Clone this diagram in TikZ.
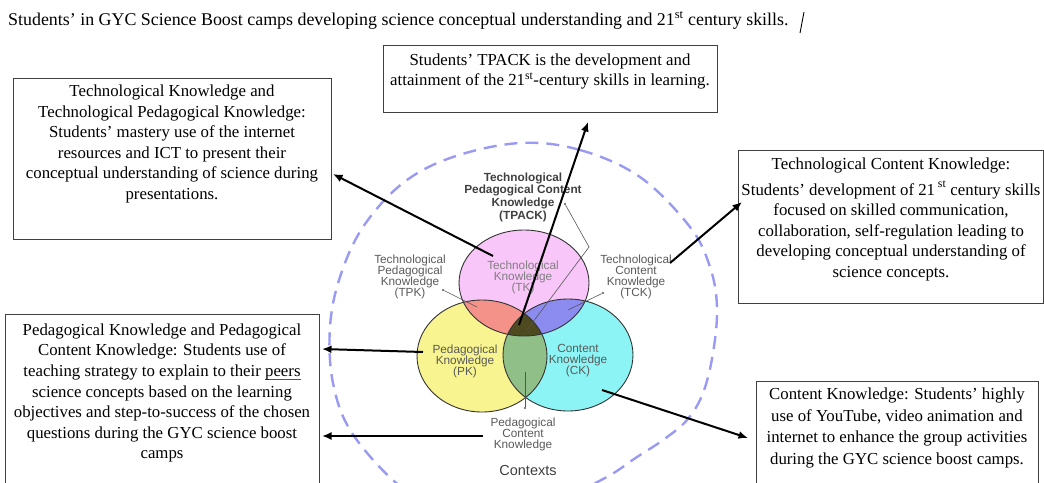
\documentclass[tikz,border=0pt]{standalone}
\usepackage{fontspec}
\setmainfont{Liberation Serif}
\newfontfamily\vennfont{Liberation Sans}
\usetikzlibrary{arrows.meta}

\definecolor{tkfill}{HTML}{F8C6F8}
\definecolor{pkfill}{HTML}{F8F490}
\definecolor{ckfill}{HTML}{8CF4F4}
\definecolor{tpkfill}{HTML}{F4928A}
\definecolor{tckfill}{HTML}{8C8CF0}
\definecolor{pckfill}{HTML}{90C088}
\definecolor{tpackfill}{HTML}{4E4A20}
\definecolor{ringblue}{HTML}{9A9AF4}
\definecolor{labelgray}{HTML}{5A5A5A}
\definecolor{pointergray}{HTML}{555555}
\definecolor{squiggle}{HTML}{2B4FD0}

% a word marked with a blue rule underneath
\newcommand\spellmark[1]{\setbox0\hbox{#1}\rlap{\color{squiggle}\raisebox{-3.5pt}{\rule{\wd0}{1pt}}}\box0}

\tikzset{
  box/.style={draw=black!75, line width=0.9pt, fill=white, inner sep=0pt},
  boxtext/.style={align=center, font=\fontsize{16.8}{20.6}\selectfont, inner sep=0pt},
  link/.style={line width=2pt, -{Latex[length=9.5pt,width=8pt]}},
  vlabel/.style={align=center, font=\vennfont\fontsize{11.8}{11}\selectfont, text=labelgray, inner sep=0pt},
  pointer/.style={draw=pointergray, line width=0.6pt},
  pdot/.style={fill=pointergray, circle, inner sep=0pt, minimum size=2.4pt},
  ring/.style={draw=ringblue, line width=2.4pt, dash pattern=on 13pt off 8pt},
  venn/.style={draw=black!80, line width=0.9pt},
}

\begin{document}
\begin{tikzpicture}[x=1pt,y=-1pt]
\useasboundingbox (0,0) rectangle (1044,482);

% heading
\node[anchor=base west, font=\fontsize{17.9}{19}\selectfont, inner sep=0pt] (title) at (8,25)
  {Students’ in GYC Science Boost camps developing science conceptual understanding and 21\textsuperscript{st} century skills.};
\draw[line width=0.9pt] (800,33) -- (804,12);

% contexts ring
\draw[ring] plot[smooth cycle, tension=0.6] coordinates {
  (520,143) (580,150) (640,177) (690,227) (710,267) (717,307) (713,353)
  (703,393) (687,420) (663,440) (637,457) (605,478) (560,497) (500,505)
  (440,500) (400,486) (352,433) (333,383) (330,327) (340,277) (363,227)
  (403,183) (453,157)};

% the three knowledge circles and their overlaps
\def\tkpath{(524,283) ellipse [x radius=65, y radius=53]}
\def\pkpath{(482,356) ellipse [x radius=65, y radius=56]}
\def\ckpath{(568,355) ellipse [x radius=65, y radius=56]}
\fill[tkfill] \tkpath;
\fill[pkfill] \pkpath;
\fill[ckfill] \ckpath;
\begin{scope}\clip \tkpath; \fill[tpkfill] \pkpath; \end{scope}
\begin{scope}\clip \tkpath; \fill[tckfill] \ckpath; \end{scope}
\begin{scope}\clip \pkpath; \fill[pckfill] \ckpath; \end{scope}
\begin{scope}\clip \tkpath; \clip \pkpath; \fill[tpackfill] \ckpath; \end{scope}
\draw[venn] \tkpath;
\draw[venn] \pkpath;
\draw[venn] \ckpath;

% circle labels
\node[vlabel, font=\vennfont\bfseries\fontsize{11.8}{12.7}\selectfont, text=black!75] (tpacklbl) at (523,197)
  {Technological\\Pedagogical Content\\Knowledge\\(TPACK)};
\node[vlabel, text=black!50] (tklbl) at (523,277) {Technological\\Knowledge\\(TK)};
\node[vlabel] (tpklbl) at (410,277) {Technological\\Pedagogical\\Knowledge\\(TPK)};
\node[vlabel] (tcklbl) at (636,277) {Technological\\Content\\Knowledge\\(TCK)};
\node[vlabel] (pklbl) at (465,361) {Pedagogical\\Knowledge\\(PK)};
\node[vlabel] (cklbl) at (578,361) {Content\\Knowledge\\(CK)};
\node[vlabel] (pcklbl) at (523,434) {Pedagogical\\Content\\Knowledge};
\node[vlabel, font=\vennfont\fontsize{14.5}{16}\selectfont, text=black!75] (ctxlbl) at (528,471) {Contexts};

% leader lines from the labels into the regions
\node[pdot] (tpackdot) at (565,204) {};
\coordinate (tpackbend) at (589,247);
\coordinate (tpackend) at (527,330);
\draw[pointer] (tpackdot) -- (tpackbend) -- (tpackend);
\node[pdot] (tpkdot) at (443,290) {};
\coordinate (tpkend) at (477,307);
\draw[pointer] (tpkdot) -- (tpkend);
\node[pdot] (tckdot) at (603,293) {};
\coordinate (tckend) at (568,310);
\draw[pointer] (tckdot) -- (tckend);
\node[pdot] (pckdot) at (525,408) {};
\coordinate (pckend) at (525,372);
\draw[pointer] (pckdot) -- (pckend);

% description boxes
\node[box, minimum width=318pt, minimum height=161pt] (tkbox) at (172,158.5) {};
\node[boxtext] (tktext) at (172,144) {Technological Knowledge and\\
  Technological Pedagogical Knowledge:\\
  Students’ mastery use of the internet\\
  resources and ICT to present their\\
  conceptual understanding of science during\\
  presentations.};

\node[box, minimum width=334pt, minimum height=67pt] (tpackbox) at (550,78.5) {};
\node[boxtext] (tpacktext) at (550,71.5) {Students’ TPACK is the development and\\
  attainment of the 21\textsuperscript{st}-century skills in learning.};

\node[box, minimum width=305pt, minimum height=153pt] (tckbox) at (890.5,226.5) {};
\node[boxtext] (tcktext) at (891,219.5) {Technological Content Knowledge:\\[5pt]
  Students’ development of 21\,\raisebox{1.5pt}{\textsuperscript{st}} century skills\\
  focused on skilled communication,\\
  collaboration, self-regulation leading to\\
  developing conceptual understanding of\\
  science concepts.};

\node[box, minimum width=314pt, minimum height=170pt] (pkbox) at (162,399) {};
\node[boxtext] (pktext) at (162,393) {Pedagogical Knowledge and Pedagogical\\
  Content Knowledge: Students use of\\
  teaching strategy to explain to their \spellmark{peers}\\
  science concepts based on the learning\\
  objectives and step-to-success of the chosen\\
  questions during the GYC science boost\\
  camps};

\node[box, minimum width=282pt, minimum height=120pt] (ckbox) at (897,441) {};
\node[boxtext, font=\fontsize{16.8}{21.6}\selectfont] (cktext) at (897,428) {Content Knowledge: Students’ highly\\
  use of YouTube, video animation and\\
  internet to enhance the group activities\\
  during the GYC science boost camps.};

% arrows from the regions to the descriptions
\coordinate (tkstart) at (493,256);
\coordinate (tktip) at (333,174);
\coordinate (centrestart) at (519,325);
\coordinate (tpacktip) at (588,122);
\coordinate (tckstart) at (670,263);
\coordinate (tcktip) at (742,202);
\coordinate (pkstart) at (423,352);
\coordinate (pktip) at (322,349);
\coordinate (pckstart) at (483,436);
\coordinate (pcktip) at (322,436);
\coordinate (ckstart) at (602,390);
\coordinate (cktip) at (748,438);
\draw[link] (tkstart) -- (tktip);
\draw[link] (centrestart) -- (tpacktip);
\draw[link] (tckstart) -- (tcktip);
\draw[link] (pkstart) -- (pktip);
\draw[link] (pckstart) -- (pcktip);
\draw[link] (ckstart) -- (cktip);
\end{tikzpicture}
\end{document}
